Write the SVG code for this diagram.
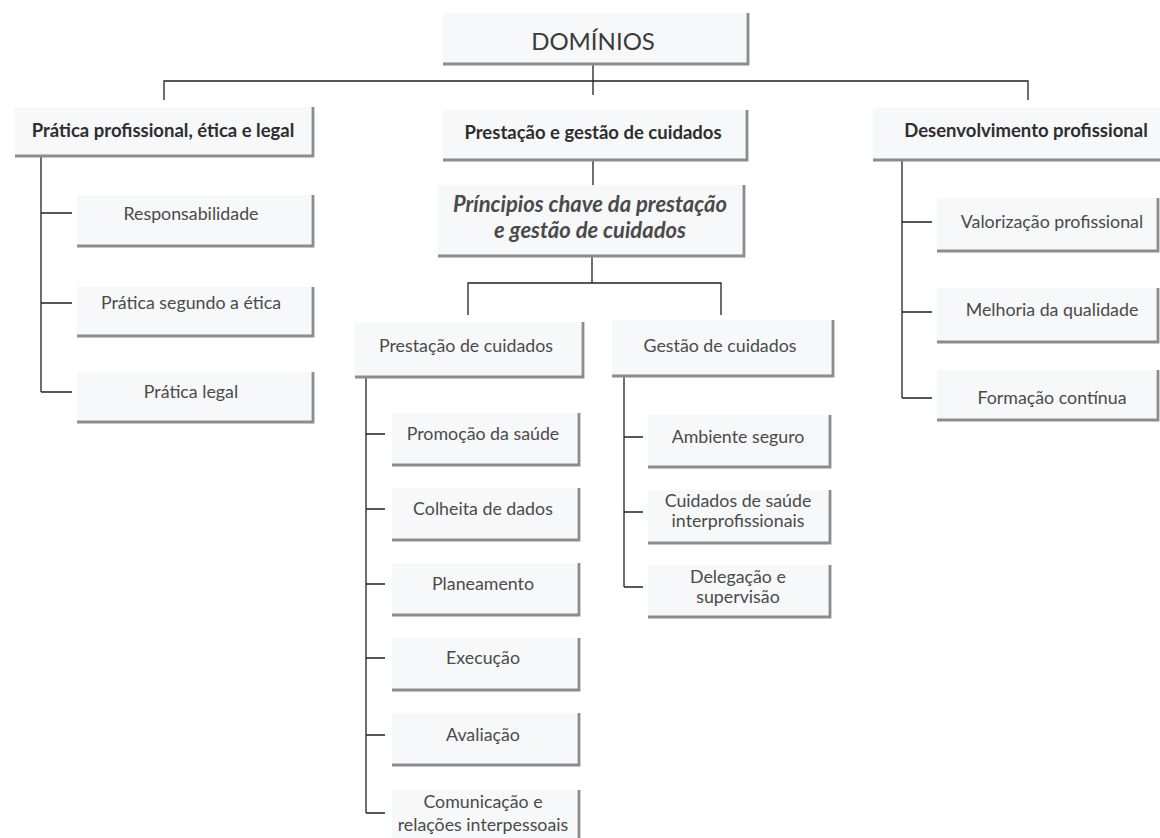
<svg xmlns="http://www.w3.org/2000/svg" width="1160" height="838" viewBox="0 0 1160 838">
<style>
.bg{fill:#f7f8fa;stroke:none}
.sh{fill:none;stroke:#8c8c8c;stroke-width:2.8}
.ln{fill:none;stroke:#222;stroke-width:1.3}
text{font-family:Lato,"Open Sans","Liberation Sans",sans-serif;text-anchor:middle;fill:#4a4a4a}
.t{font-size:17.8px}
.b{font-size:18.5px;font-weight:bold;fill:#2e2e2e}
.h{font-size:24px;fill:#3a3a3a}
.i{font-size:22px;font-style:italic;font-weight:bold;fill:#4a4a4a}
</style>
<rect width="1160" height="838" fill="#ffffff"/>
<g id="connectors">
<path class="ln" d="M593,64V81M164,100V81H1028V100M593,81V95"/>
<path class="ln" d="M41,156V392M41,213H72M41,303H72M41,392H72"/>
<path class="ln" d="M593,160V185"/>
<path class="ln" d="M592,256V283M468,315V283H721V315"/>
<path class="ln" d="M366,377V813M366,434H385M366,509H385M366,584H385M366,658H385M366,735H385M366,813H385"/>
<path class="ln" d="M624,376V587M624,437H643M624,512H643M624,587H643"/>
<path class="ln" d="M902,160V398M902,222H932M902,312H932M902,398H932"/>
</g>
<g id="n-dominios"><rect class="bg" x="443" y="13" width="305" height="51"/><path class="sh" d="M443,64H748V13"/><text class="h" x="593" y="50">DOMÍNIOS</text></g>
<g id="n-pratica"><rect class="bg" x="15" y="107" width="298" height="49"/><path class="sh" d="M15,156H313V107"/><text class="b" x="163" y="137">Prática profissional, ética e legal</text></g>
<g id="n-prestgest"><rect class="bg" x="443" y="110" width="304" height="50"/><path class="sh" d="M443,160H747V110"/><text class="b" x="593" y="139">Prestação e gestão de cuidados</text></g>
<g id="n-desenv"><rect class="bg" x="873" y="107" width="292" height="53"/><path class="sh" d="M873,160H1165V107"/><text class="b" x="1026" y="137">Desenvolvimento profissional</text></g>
<g id="n-principios"><rect class="bg" x="438" y="185" width="306" height="71"/><path class="sh" d="M438,256H744V185"/><text class="i" x="590" y="212">Príncipios chave da prestação</text><text class="i" x="590" y="238">e gestão de cuidados</text></g>
<g id="n-resp"><rect class="bg" x="77" y="195" width="236" height="51"/><path class="sh" d="M77,246H313V195"/><text class="t" x="191" y="220">Responsabilidade</text></g>
<g id="n-etica"><rect class="bg" x="77" y="287" width="236" height="49"/><path class="sh" d="M77,336H313V287"/><text class="t" x="191" y="309">Prática segundo a ética</text></g>
<g id="n-legal"><rect class="bg" x="77" y="372" width="236" height="50"/><path class="sh" d="M77,422H313V372"/><text class="t" x="191" y="398">Prática legal</text></g>
<g id="n-prestacao"><rect class="bg" x="355" y="322" width="228" height="55"/><path class="sh" d="M355,377H583V322"/><text class="t" x="466" y="352">Prestação de cuidados</text></g>
<g id="n-gestao"><rect class="bg" x="612" y="320" width="221" height="56"/><path class="sh" d="M612,376H833V320"/><text class="t" x="720" y="352">Gestão de cuidados</text></g>
<g id="n-promocao"><rect class="bg" x="392" y="413" width="187" height="52"/><path class="sh" d="M392,465H579V413"/><text class="t" x="483" y="440">Promoção da saúde</text></g>
<g id="n-colheita"><rect class="bg" x="392" y="488" width="187" height="52"/><path class="sh" d="M392,540H579V488"/><text class="t" x="483" y="515">Colheita de dados</text></g>
<g id="n-planeamento"><rect class="bg" x="392" y="563" width="187" height="52"/><path class="sh" d="M392,615H579V563"/><text class="t" x="483" y="590">Planeamento</text></g>
<g id="n-execucao"><rect class="bg" x="392" y="638" width="187" height="52"/><path class="sh" d="M392,690H579V638"/><text class="t" x="483" y="664">Execução</text></g>
<g id="n-avaliacao"><rect class="bg" x="392" y="713" width="187" height="52"/><path class="sh" d="M392,765H579V713"/><text class="t" x="483" y="741">Avaliação</text></g>
<g id="n-comunicacao"><rect class="bg" x="392" y="790" width="187" height="55"/><path class="sh" d="M392,845H579V790"/><text class="t" x="483" y="808">Comunicação e</text><text class="t" x="483" y="831">relações interpessoais</text></g>
<g id="n-ambiente"><rect class="bg" x="648" y="415" width="182" height="52"/><path class="sh" d="M648,467H830V415"/><text class="t" x="738" y="443">Ambiente seguro</text></g>
<g id="n-interprof"><rect class="bg" x="648" y="490" width="182" height="53"/><path class="sh" d="M648,543H830V490"/><text class="t" x="738" y="507">Cuidados de saúde</text><text class="t" x="738" y="527">interprofissionais</text></g>
<g id="n-delegacao"><rect class="bg" x="648" y="565" width="182" height="52"/><path class="sh" d="M648,617H830V565"/><text class="t" x="738" y="583">Delegação e</text><text class="t" x="738" y="603">supervisão</text></g>
<g id="n-valorizacao"><rect class="bg" x="937" y="198" width="221" height="53"/><path class="sh" d="M937,251H1158V198"/><text class="t" x="1052" y="228">Valorização profissional</text></g>
<g id="n-melhoria"><rect class="bg" x="937" y="288" width="221" height="54"/><path class="sh" d="M937,342H1158V288"/><text class="t" x="1052" y="316">Melhoria da qualidade</text></g>
<g id="n-formacao"><rect class="bg" x="937" y="370" width="221" height="50"/><path class="sh" d="M937,420H1158V370"/><text class="t" x="1052" y="404">Formação contínua</text></g>
</svg>
